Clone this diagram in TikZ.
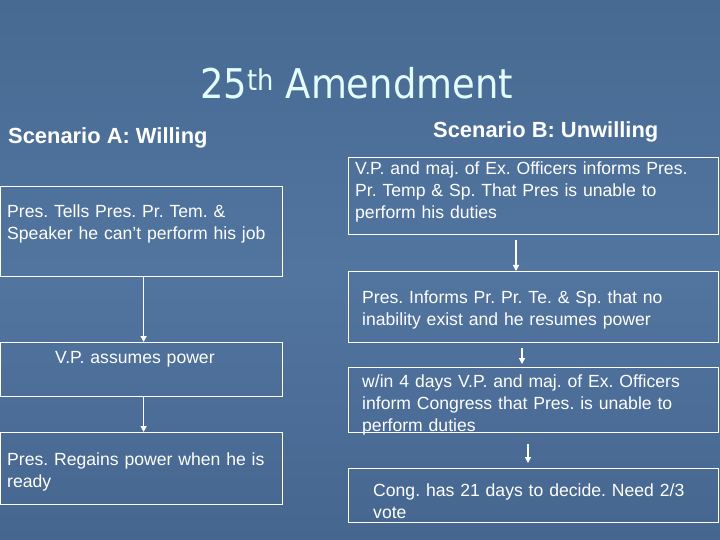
\documentclass[tikz,border=0pt]{standalone}
\usepackage{fontspec}
\setmainfont{Liberation Sans}
\newfontfamily\titlefont{DejaVu Sans Condensed}
\usetikzlibrary{positioning, arrows.meta}
\definecolor{slidetop}{HTML}{476A93}
\definecolor{slidemid}{HTML}{5275A0}
\definecolor{slidebottom}{HTML}{45668F}
\definecolor{titlecyan}{HTML}{E2FCFF}
\frenchspacing

\begin{document}
\begin{tikzpicture}
[x=1bp, y=-1bp,
framenode/.style={rectangle, draw=white, line width=1.3bp, anchor=north west, inner sep=0pt},
textnode/.style={anchor=base west, inner sep=0pt, text=white, align=left, text width=#1, font=\fontsize{17.6bp}{22bp}\selectfont},
headnode/.style={anchor=base west, inner sep=0pt, text=white, font=\bfseries\fontsize{21.9bp}{25bp}\selectfont},
flowarrow/.style={draw=white, line width=1.3bp, -{Triangle[length=6bp, width=6bp]}},
]
\useasboundingbox (0,0) rectangle (720,540);
\shade[top color=slidetop, bottom color=slidebottom, middle color=slidemid] (0,0) rectangle (720,540);

\node[anchor=base west, inner sep=0pt, text=titlecyan, font=\titlefont\fontsize{41bp}{45bp}\selectfont] (title) at (200,99) {25\textsuperscript{th} Amendment};
\node[headnode] (headA) at (8,144) {Scenario A: Willing};
\node[headnode] (headB) at (433,138) {Scenario B: Unwilling};

% Scenario A
\node[framenode, minimum width=283, minimum height=90] (boxA1) at (0,186) {};
\node[framenode, minimum width=283, minimum height=54] (boxA2) at (0,342) {};
\node[framenode, minimum width=283, minimum height=72] (boxA3) at (0,432) {};
\node[textnode=275bp] (textA1) at (7,218) {Pres. Tells Pres. Pr. Tem. \&\\Speaker he can’t perform his job};
\node[textnode=220bp] (textA2) at (55,363) {V.P. assumes power};
\node[textnode=275bp] (textA3) at (7,465) {Pres. Regains power when he is\\ready};

\draw[flowarrow] ([xshift=2]boxA1.south) -- ([xshift=2]boxA2.north);
\draw[flowarrow] ([xshift=2]boxA2.south) -- ([xshift=2]boxA3.north);

% Scenario B
\node[framenode, minimum width=371, minimum height=77] (boxB1) at (348,157) {};
\node[framenode, minimum width=371, minimum height=71] (boxB2) at (348,271) {};
\node[framenode, minimum width=371, minimum height=65] (boxB3) at (348,367) {};
\node[framenode, minimum width=371, minimum height=54] (boxB4) at (348,468) {};
\node[textnode=360bp] (textB1) at (355,175) {V.P. and maj. of Ex. Officers informs Pres.\\Pr. Temp \& Sp. That Pres is unable to\\perform his duties};
\node[textnode=350bp] (textB2) at (362,303) {Pres. Informs Pr. Pr. Te. \& Sp. that no\\inability exist and he resumes power};
\node[textnode=350bp] (textB3) at (362,387) {w/in 4 days V.P. and maj. of Ex. Officers\\inform Congress that Pres. is unable to\\perform duties};
\node[textnode=340bp] (textB4) at (373,496) {Cong. has 21 days to decide. Need 2/3\\vote};

\coordinate (startB1) at (516,240);
\coordinate (startB2) at (522,348);
\coordinate (startB3) at (528,444);
\draw[flowarrow] (startB1) -- (startB1 |- boxB2.north);
\draw[flowarrow] (startB2) -- ([yshift=3]startB2 |- boxB3.north);
\draw[flowarrow] (startB3) -- ([yshift=5]startB3 |- boxB4.north);
\end{tikzpicture}
\end{document}
